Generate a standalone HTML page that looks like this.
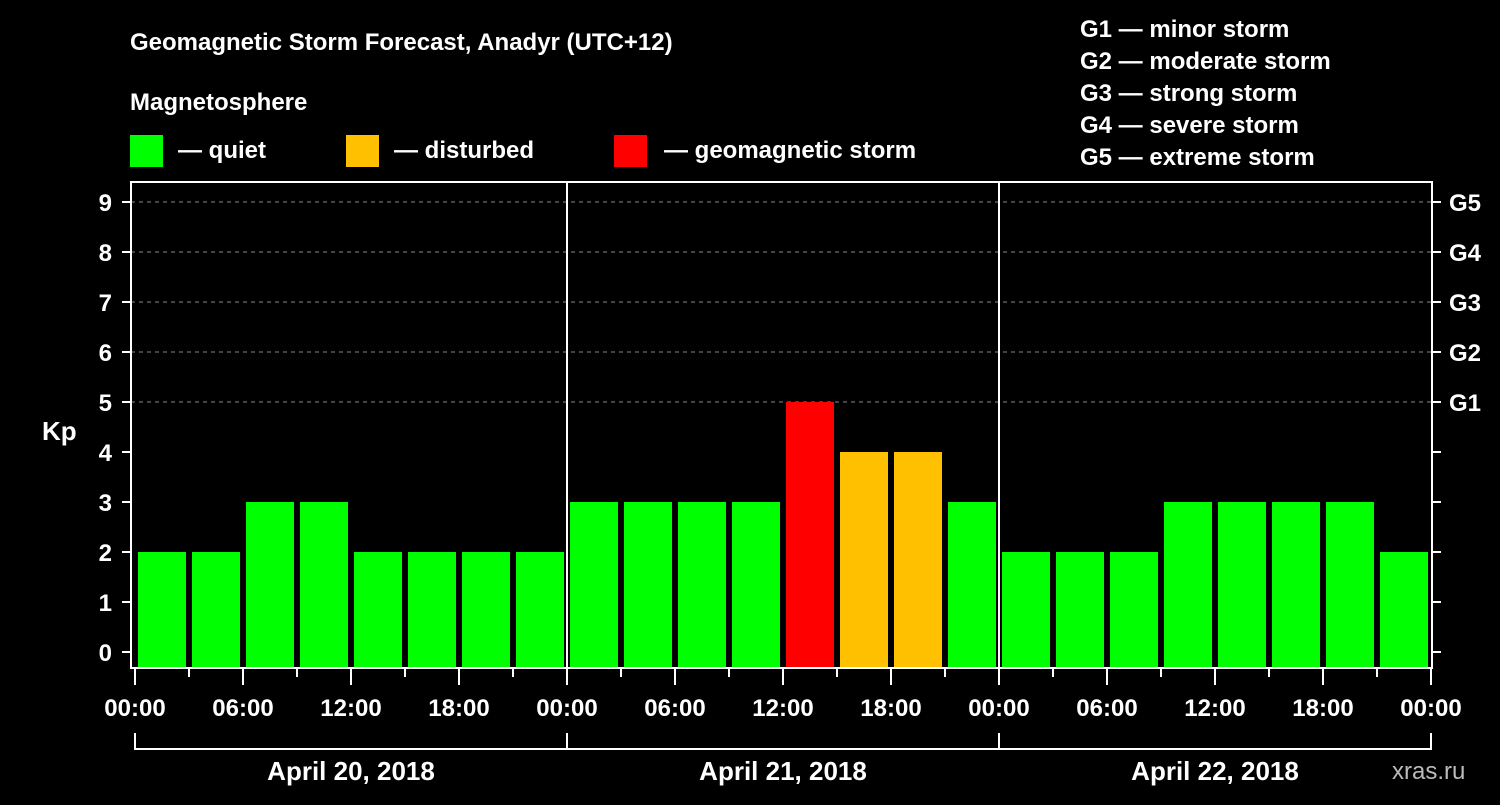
<!DOCTYPE html>
<html><head><meta charset="utf-8"><style>
body{margin:0;background:#000;}
svg text{font-family:"Liberation Sans",Arial,sans-serif;font-weight:bold;fill:#fff;}
</style></head><body>
<svg width="1500" height="800" viewBox="0 0 1500 800" xmlns="http://www.w3.org/2000/svg">
<rect width="1500" height="800" fill="#000"/>
<text x="130" y="50" font-size="24">Geomagnetic Storm Forecast, Anadyr (UTC+12)</text>
<text x="130" y="110" font-size="24">Magnetosphere</text>
<g><rect x="130" y="135" width="33" height="32" fill="#00ff00"/><text x="178" y="158" font-size="24">— quiet</text></g>
<g><rect x="346" y="135" width="33" height="32" fill="#ffc000"/><text x="394" y="158" font-size="24">— disturbed</text></g>
<g><rect x="614" y="135" width="33" height="32" fill="#ff0000"/><text x="664" y="158" font-size="24">— geomagnetic storm</text></g>
<g font-size="24">
<text x="1080" y="37">G1 — minor storm</text>
<text x="1080" y="69">G2 — moderate storm</text>
<text x="1080" y="101">G3 — strong storm</text>
<text x="1080" y="133">G4 — severe storm</text>
<text x="1080" y="165">G5 — extreme storm</text>
</g>
<g id="grid"></g>
<g id="bars"></g>
<rect x="131" y="182" width="1301" height="486" fill="none" stroke="#fff" stroke-width="2"/>
<g id="axes"></g>
<text x="42" y="440" font-size="26">Kp</text>
<text x="1392" y="779" font-size="24" fill="#bbb" style="fill:#bbb;font-weight:normal">xras.ru</text>
</svg>
<script>
const kpValues=[2,2,3,3,2,2,2,2, 3,3,3,3,5,4,4,3, 2,2,2,3,3,3,3,2];
const dayLabels=["April 20, 2018","April 21, 2018","April 22, 2018"];
const hourTicks=["00:00","06:00","12:00","18:00"];
const gLabels=["G1","G2","G3","G4","G5"];
const NS="http://www.w3.org/2000/svg";
const x0=135, pxPerHour=18, y0=652, pxPerKp=50, bottom=668;
const xs=h=>x0+h*pxPerHour;
const ys=k=>y0-k*pxPerKp;
function mk(tag,attrs,parent){const e=document.createElementNS(NS,tag);for(const k in attrs)e.setAttribute(k,attrs[k]);parent.appendChild(e);return e;}
const grid=document.getElementById('grid'),bars=document.getElementById('bars'),axes=document.getElementById('axes');
for(let k=5;k<=9;k++){
  const l=mk('line',{x1:131,x2:1432,y1:ys(k),y2:ys(k),stroke:'#888','stroke-dasharray':'4,4'},grid);
  
  
}
kpValues.forEach((v,i)=>{
  const c=v>=5?'#ff0000':v>=4?'#ffc000':'#00ff00';
  const r=mk('rect',{x:xs(i*3)+3,y:ys(v),width:48,height:bottom-ys(v),fill:c},bars);
  
  
});
for(let d=1;d<3;d++){
  const l=mk('line',{x1:xs(d*24),x2:xs(d*24),y1:182,y2:668,stroke:'#fff','stroke-width':2},axes);
  
  
}
for(let k=0;k<=9;k++){
  mk('line',{x1:122,x2:131,y1:ys(k),y2:ys(k),stroke:'#fff','stroke-width':2},axes);
  mk('line',{x1:1432,x2:1441,y1:ys(k),y2:ys(k),stroke:'#fff','stroke-width':2},axes);
  const t=mk('text',{x:112,y:ys(k)+9,'font-size':24,'text-anchor':'end'},axes);
  t.textContent=k;
  
  
}
gLabels.forEach((g,i)=>{
  const t=mk('text',{x:1449,y:ys(5+i)+9,'font-size':24},axes);
  t.textContent=g;
  
  
});
for(let h=0;h<=72;h+=3){
  const major=h%6===0;
  mk('line',{x1:xs(h),x2:xs(h),y1:668,y2:major?685:677,stroke:'#fff','stroke-width':2},axes);
  if(major){
    const t=mk('text',{x:xs(h),y:716,'font-size':24,'text-anchor':'middle'},axes);
    t.textContent=hourTicks[(h/6)%4];
    
    
  }
}
mk('line',{x1:xs(0),x2:xs(72),y1:749,y2:749,stroke:'#fff','stroke-width':2},axes);
for(let d=0;d<=3;d++) mk('line',{x1:xs(d*24),x2:xs(d*24),y1:733,y2:750,stroke:'#fff','stroke-width':2},axes);
dayLabels.forEach((s,i)=>{
  const t=mk('text',{x:xs(i*24+12),y:780,'font-size':26,'text-anchor':'middle'},axes);
  t.textContent=s;
  
  
});
</script>
</body></html>
